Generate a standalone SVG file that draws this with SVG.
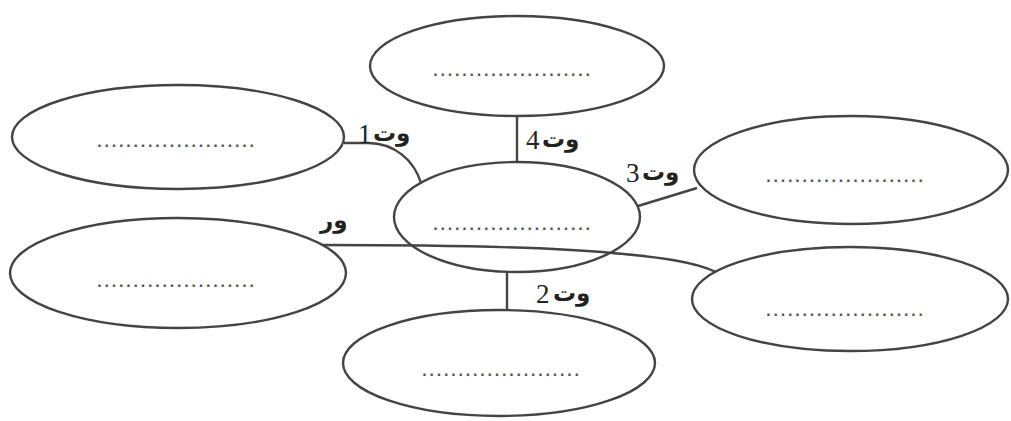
<svg xmlns="http://www.w3.org/2000/svg" width="1011" height="421" viewBox="0 0 1011 421">
  <style>
    .shape { fill: #ffffff; stroke: #444444; stroke-width: 2.4; }
    .link { fill: none; stroke: #444444; stroke-width: 2.4; }
    .dots { font-family: "Liberation Sans", sans-serif; font-size: 16px; font-weight: bold; fill: #555555; letter-spacing: 2.8px; text-anchor: middle; }
    .num { font-family: "Liberation Serif", serif; font-size: 27px; fill: #222222; }
    .ar { font-family: "DejaVu Sans", sans-serif; font-size: 23px; font-weight: bold; fill: #222222; }
  </style>
  <rect width="1011" height="421" fill="#ffffff"/>

  <!-- connectors -->
  <g id="connectors">
    <path class="link" d="M344,143 L368,143 C394,143 414,160 421,183"/>
    <path class="link" d="M517,117 L517,162"/>
    <path class="link" d="M638,206 L697,188"/>
    <path class="link" d="M507,272 L507,312"/>
    <path class="link" d="M320,245 C450,245 560,248 612,253 C660,257 695,262 716,272"/>
  </g>

  <!-- connector labels: number, then the Arabic tag -->
  <g id="labels">
    <text class="num" x="358" y="143">1</text>
    <text class="ar" x="373" y="141">وت</text>
    <text class="num" x="526" y="149">4</text>
    <text class="ar" x="542" y="147">وت</text>
    <text class="num" x="626" y="182">3</text>
    <text class="ar" x="642" y="180">وت</text>
    <text class="num" x="536" y="303">2</text>
    <text class="ar" x="553" y="301">وت</text>
    <text class="ar" x="320" y="228">ور</text>
  </g>

  <g id="node-top">
    <ellipse class="shape" cx="517" cy="66" rx="147" ry="50"/>
    <text class="dots" x="513" y="76">......................</text>
  </g>

  <g id="node-left-top">
    <ellipse class="shape" cx="178" cy="137" rx="166" ry="52"/>
    <text class="dots" x="177" y="147">......................</text>
  </g>

  <g id="node-center">
    <ellipse class="shape" cx="517" cy="217" rx="123" ry="55" fill-opacity="0"/>
    <text class="dots" x="513" y="230">......................</text>
  </g>

  <g id="node-right">
    <ellipse class="shape" cx="851" cy="170" rx="157" ry="54"/>
    <text class="dots" x="846" y="182">......................</text>
  </g>

  <g id="node-left-bottom">
    <ellipse class="shape" cx="178" cy="273" rx="168" ry="55"/>
    <text class="dots" x="177" y="287">......................</text>
  </g>

  <g id="node-right-bottom">
    <ellipse class="shape" cx="850" cy="299" rx="158" ry="52"/>
    <text class="dots" x="846" y="316">......................</text>
  </g>

  <g id="node-bottom">
    <ellipse class="shape" cx="499" cy="363" rx="156" ry="53"/>
    <text class="dots" x="502" y="376">......................</text>
  </g>
</svg>
